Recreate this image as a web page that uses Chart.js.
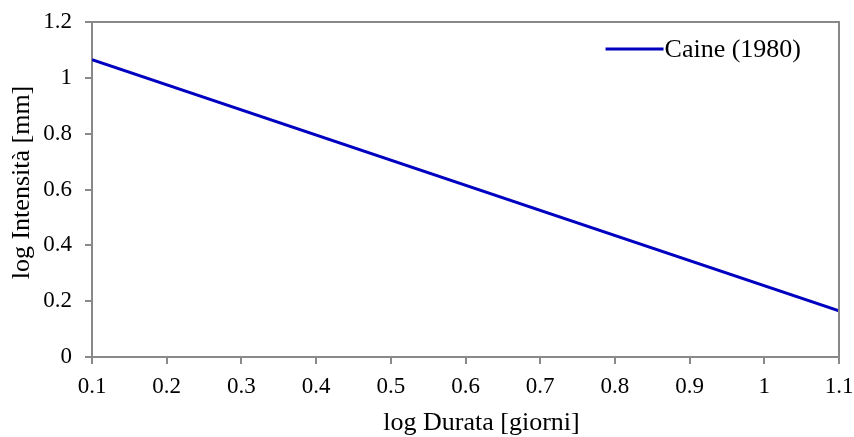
<!DOCTYPE html>
<html>
<head>
<meta charset="utf-8">
<script src="https://cdn.jsdelivr.net/npm/chart.js@4"></script>
<style>
html,body{margin:0;padding:0;background:#fff;}
#wrap{width:854px;height:437px;position:relative;}
</style>
</head>
<body>
<div id="wrap"><canvas id="c" width="854" height="437"></canvas></div>
<script>
const seriesName = 'Caine (1980)';
const logDurata = [0.1, 1.1];
const logIntensita = [1.065, 0.165];
const xTicks = [0.1, 0.2, 0.3, 0.4, 0.5, 0.6, 0.7, 0.8, 0.9, 1, 1.1];
const yTicks = [0, 0.2, 0.4, 0.6, 0.8, 1, 1.2];
const xTitle = 'log Durata [giorni]';
const yTitle = 'log Intensità [mm]';

const FONT = "'Liberation Serif', 'Times New Roman', serif";
const AXIS = '#898989';
const LINE = '#0000C0';

const frame = {
  id: 'frame',
  afterDatasetsDraw(chart) {
    const {ctx, chartArea: a} = chart;
    ctx.save();
    ctx.strokeStyle = AXIS;
    ctx.lineWidth = 2;
    ctx.beginPath();
    ctx.moveTo(a.left, a.top);
    ctx.lineTo(a.right, a.top);
    ctx.lineTo(a.right, a.bottom);
    ctx.stroke();
    ctx.restore();
  }
};

const axisTitles = {
  id: 'axisTitles',
  afterDraw(chart) {
    const {ctx, chartArea: a} = chart;
    ctx.save();
    ctx.font = '26px ' + FONT;
    ctx.fillStyle = '#000';
    ctx.textAlign = 'center';
    ctx.textBaseline = 'middle';
    ctx.fillText(xTitle, (a.left + a.right) / 2 + 16, 423);
    ctx.translate(22, (a.top + a.bottom) / 2 - 7);
    ctx.rotate(-Math.PI / 2);
    ctx.fillText(yTitle, 0, 0);
    ctx.restore();
  }
};

const legendIn = {
  id: 'legendIn',
  afterDraw(chart) {
    const {ctx, chartArea: a} = chart;
    const ds = chart.data.datasets[0];
    ctx.save();
    ctx.font = '26px ' + FONT;
    const w = ctx.measureText(ds.label).width;
    const tx = a.right - 36 - w;
    const ty = a.top + 27;
    ctx.strokeStyle = ds.borderColor;
    ctx.lineWidth = 3;
    ctx.beginPath();
    ctx.moveTo(tx - 61, ty);
    ctx.lineTo(tx - 3, ty);
    ctx.stroke();
    ctx.fillStyle = '#000';
    ctx.textBaseline = 'middle';
    ctx.fillText(ds.label, tx - 2, ty + 1);
    ctx.restore();
  }
};

new Chart(document.getElementById('c'), {
  type: 'line',
  data: {
    datasets: [{
      label: seriesName,
      data: logDurata.map((x, i) => ({x: x, y: logIntensita[i]})),
      borderColor: LINE,
      backgroundColor: LINE,
      borderWidth: 3,
      pointRadius: 0,
      tension: 0
    }]
  },
  options: {
    responsive: false,
    animation: false,
    layout: {padding: {top: 22, right: 15, left: 0, bottom: 0}},
    plugins: {legend: {display: false}, tooltip: {enabled: false}},
    scales: {
      x: {
        type: 'linear',
        min: 0.1, max: 1.1,
        afterBuildTicks: s => { s.ticks = xTicks.map(v => ({value: v})); },
        afterFit: s => { s.height = 80; s.paddingLeft = 0; s.paddingRight = 0; },
        ticks: {
          color: '#000',
          font: {family: FONT, size: 23},
          padding: 9,
          maxRotation: 0,
          callback: v => String(Math.round(v * 10) / 10)
        },
        grid: {drawOnChartArea: false, drawTicks: true, tickLength: 7, color: AXIS, lineWidth: 2},
        border: {display: true, color: AXIS, width: 2},
        title: {display: false, text: xTitle}
      },
      y: {
        type: 'linear',
        min: 0, max: 1.2,
        afterBuildTicks: s => { s.ticks = yTicks.map(v => ({value: v})); },
        afterFit: s => { s.width = 92; s.paddingTop = 0; s.paddingBottom = 0; },
        ticks: {
          color: '#000',
          font: {family: FONT, size: 23},
          padding: 13,
          callback: v => String(Math.round(v * 10) / 10)
        },
        grid: {drawOnChartArea: false, drawTicks: true, tickLength: 7, color: AXIS, lineWidth: 2},
        border: {display: true, color: AXIS, width: 2},
        title: {display: false, text: yTitle}
      }
    }
  },
  plugins: [frame, axisTitles, legendIn]
});
</script>
</body>
</html>
